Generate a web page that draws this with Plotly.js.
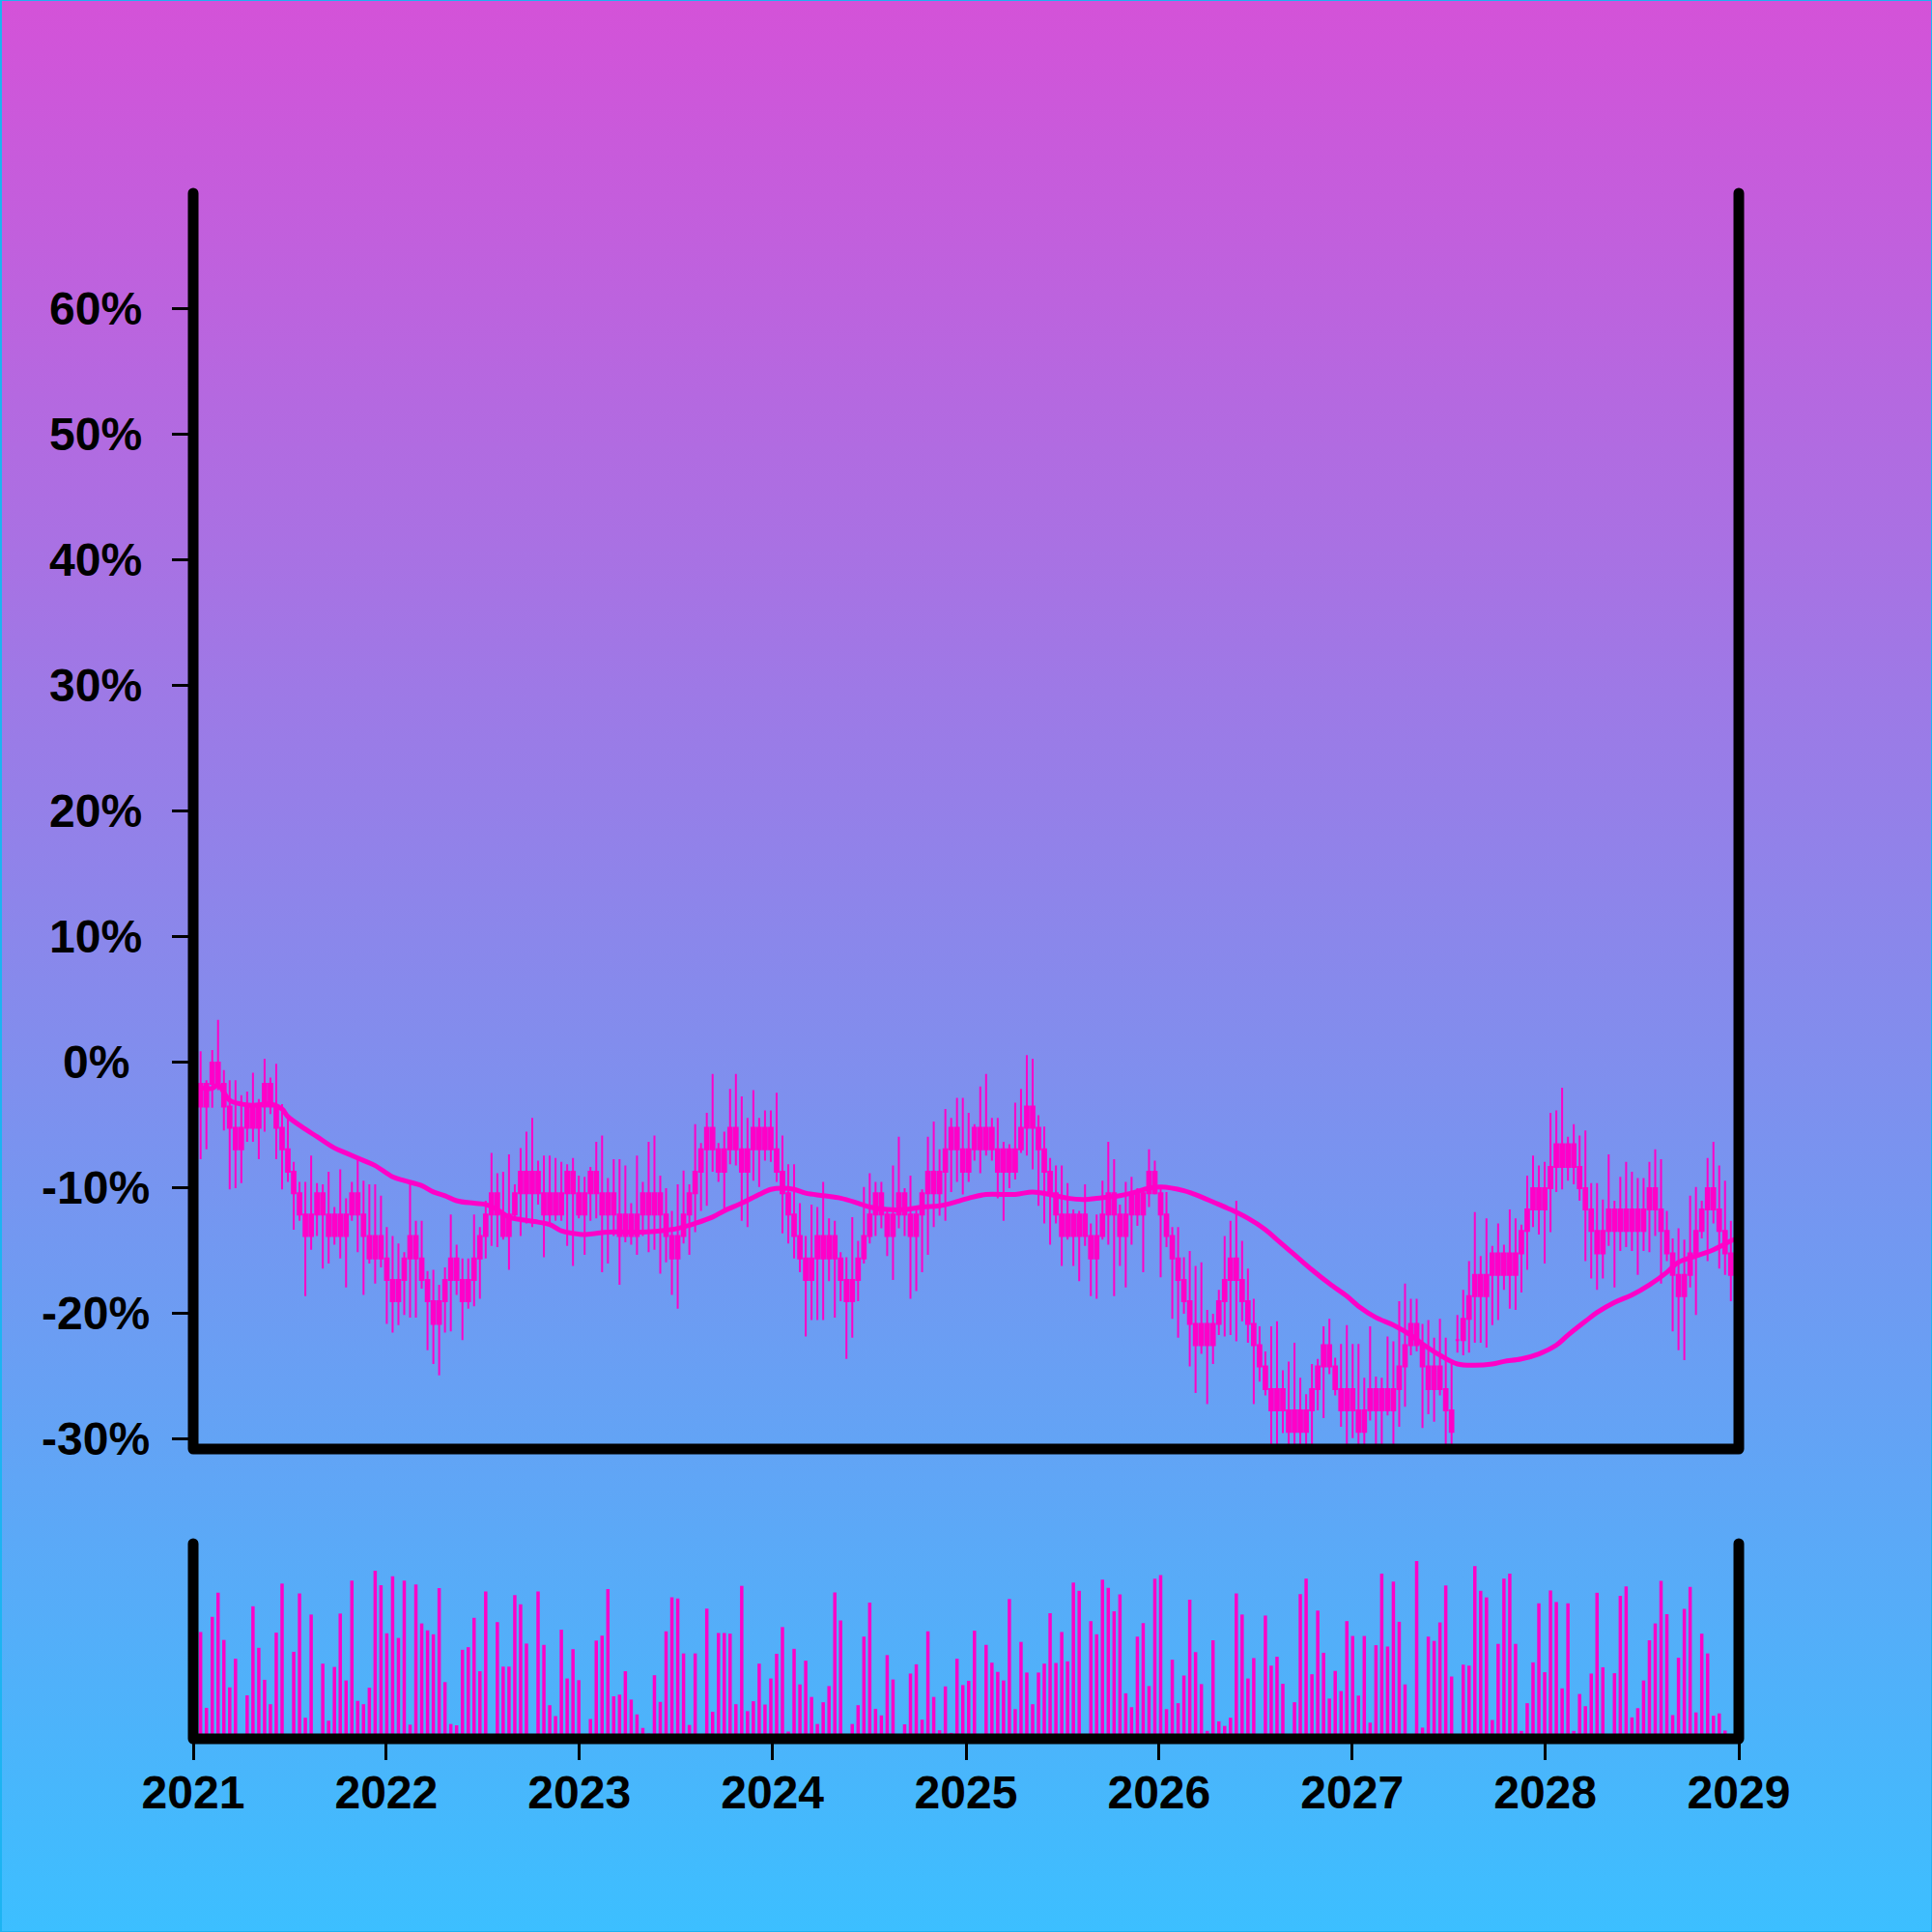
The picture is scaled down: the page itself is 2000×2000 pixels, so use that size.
<!DOCTYPE html>
<html>
<head>
<meta charset="utf-8">
<script src="https://cdn.plot.ly/plotly-3.0.1.min.js"></script>
<style>
  html, body { margin: 0; padding: 0; }
  #wrap { position: relative; width: 2000px; height: 2000px; }
  #chart { width: 2000px; height: 2000px; background: linear-gradient(to bottom, #d452d8 0%, #3cbfff 100%); }
  #frame { position: absolute; left: 0; top: 0; width: 2000px; height: 2000px; box-sizing: border-box;
           border: 1px solid #1cb4f2; border-left-width: 2px; pointer-events: none; }
</style>
</head>
<body>
<div id="wrap"><div id="chart"></div><div id="frame"></div></div>
<script>
// ---- data (percent values) ----
const open = [
 -1.7,-1.7,0,0,-1.7,-3.5,-5.2,-5.2,-3.5,-3.5,
 -3.5,-1.7,-1.7,-3.5,-5.2,-6.9,-8.7,-10.4,-12.1,-12.1,
 -10.4,-10.4,-12.1,-12.1,-12.1,-12.1,-10.4,-10.4,-12.1,-13.8,
 -13.8,-13.8,-15.6,-17.3,-17.3,-15.6,-13.8,-13.8,-15.6,-17.3,
 -19.0,-19.0,-17.3,-15.6,-15.6,-17.3,-17.3,-15.6,-13.8,-12.1,
 -10.4,-10.4,-12.1,-12.1,-10.4,-8.7,-8.7,-8.7,-8.7,-10.4,
 -10.4,-10.4,-10.4,-8.7,-8.7,-10.4,-10.4,-8.7,-8.7,-10.4,
 -10.4,-10.4,-12.1,-12.1,-12.1,-12.1,-10.4,-10.4,-10.4,-10.4,
 -12.1,-13.8,-13.8,-12.1,-10.4,-8.7,-6.9,-5.2,-5.2,-6.9,
 -6.9,-5.2,-5.2,-6.9,-6.9,-5.2,-5.2,-5.2,-5.2,-6.9,
 -8.7,-10.4,-12.1,-13.8,-15.6,-15.6,-13.8,-13.8,-13.8,-13.8,
 -15.6,-17.3,-17.3,-15.6,-13.8,-12.1,-10.4,-10.4,-12.1,-12.1,
 -10.4,-10.4,-12.1,-12.1,-10.4,-8.7,-8.7,-8.7,-6.9,-5.2,
 -5.2,-6.9,-6.9,-5.2,-5.2,-5.2,-5.2,-6.9,-6.9,-6.9,
 -6.9,-5.2,-3.5,-3.5,-5.2,-6.9,-8.7,-10.4,-12.1,-12.1,
 -12.1,-12.1,-12.1,-13.8,-13.8,-12.1,-10.4,-10.4,-12.1,-12.1,
 -10.4,-10.4,-10.4,-8.7,-8.7,-10.4,-12.1,-13.8,-15.6,-17.3,
 -19.0,-20.8,-20.8,-20.8,-20.8,-19.0,-17.3,-15.6,-15.6,-17.3,
 -19.0,-20.8,-22.5,-24.2,-26.0,-26.0,-26.0,-27.7,-27.7,-27.7,
 -27.7,-26.0,-24.2,-22.5,-22.5,-24.2,-26.0,-26.0,-26.0,-27.7,
 -27.7,-26.0,-26.0,-26.0,-26.0,-26.0,-24.2,-22.5,-20.8,-20.8,
 -22.5,-24.2,-24.2,-24.2,-26.0,-27.7,
 -22.1,-20.4,-18.6,-16.9,-16.9,-16.9,-15.2,-15.2,-15.2,-15.2,
 -15.2,-13.4,-11.7,-10.0,-10.0,-10.0,-8.3,-6.5,-6.5,-6.5,
 -6.5,-8.3,-10.0,-11.7,-13.4,-13.4,-11.7,-11.7,-11.7,-11.7,
 -11.7,-11.7,-11.7,-10.0,-10.0,-11.7,-13.4,-15.2,-16.9,-16.9,
 -15.2,-13.4,-11.7,-10.0,-10.0,-11.7,-13.4,-15.2,-16.9
];
const close = [
 -3.5,-3.5,-1.7,-1.7,-3.5,-5.2,-6.9,-6.9,-5.2,-5.2,
 -5.2,-3.5,-3.5,-5.2,-6.9,-8.7,-10.4,-12.1,-13.8,-13.8,
 -12.1,-12.1,-13.8,-13.8,-13.8,-13.8,-12.1,-12.1,-13.8,-15.6,
 -15.6,-15.6,-17.3,-19.0,-19.0,-17.3,-15.6,-15.6,-17.3,-19.0,
 -20.8,-20.8,-19.0,-17.3,-17.3,-19.0,-19.0,-17.3,-15.6,-13.8,
 -12.1,-12.1,-13.8,-13.8,-12.1,-10.4,-10.4,-10.4,-10.4,-12.1,
 -12.1,-12.1,-12.1,-10.4,-10.4,-12.1,-12.1,-10.4,-10.4,-12.1,
 -12.1,-12.1,-13.8,-13.8,-13.8,-13.8,-12.1,-12.1,-12.1,-12.1,
 -13.8,-15.6,-15.6,-13.8,-12.1,-10.4,-8.7,-6.9,-6.9,-8.7,
 -8.7,-6.9,-6.9,-8.7,-8.7,-6.9,-6.9,-6.9,-6.9,-8.7,
 -10.4,-12.1,-13.8,-15.6,-17.3,-17.3,-15.6,-15.6,-15.6,-15.6,
 -17.3,-19.0,-19.0,-17.3,-15.6,-13.8,-12.1,-12.1,-13.8,-13.8,
 -12.1,-12.1,-13.8,-13.8,-12.1,-10.4,-10.4,-10.4,-8.7,-6.9,
 -6.9,-8.7,-8.7,-6.9,-6.9,-6.9,-6.9,-8.7,-8.7,-8.7,
 -8.7,-6.9,-5.2,-5.2,-6.9,-8.7,-10.4,-12.1,-13.8,-13.8,
 -13.8,-13.8,-13.8,-15.6,-15.6,-13.8,-12.1,-12.1,-13.8,-13.8,
 -12.1,-12.1,-12.1,-10.4,-10.4,-12.1,-13.8,-15.6,-17.3,-19.0,
 -20.8,-22.5,-22.5,-22.5,-22.5,-20.8,-19.0,-17.3,-17.3,-19.0,
 -20.8,-22.5,-24.2,-26.0,-27.7,-27.7,-27.7,-29.4,-29.4,-29.4,
 -29.4,-27.7,-26.0,-24.2,-24.2,-26.0,-27.7,-27.7,-27.7,-29.4,
 -29.4,-27.7,-27.7,-27.7,-27.7,-27.7,-26.0,-24.2,-22.5,-22.5,
 -24.2,-26.0,-26.0,-26.0,-27.7,-29.4,
 -22.1,-22.1,-20.4,-18.6,-18.6,-18.6,-16.9,-16.9,-16.9,-16.9,
 -16.9,-15.2,-13.4,-11.7,-11.7,-11.7,-10.0,-8.3,-8.3,-8.3,
 -8.3,-10.0,-11.7,-13.4,-15.2,-15.2,-13.4,-13.4,-13.4,-13.4,
 -13.4,-13.4,-13.4,-11.7,-11.7,-13.4,-15.2,-16.9,-18.6,-18.6,
 -16.9,-15.2,-13.4,-11.7,-11.7,-13.4,-15.2,-16.9,-18.6
];
const high = [
 0.9,-1.4,1.0,3.4,-0.6,-1.4,-1.4,-2.6,-2.3,-0.8,
 -2.9,0.3,-1.2,-0.1,-3.3,-4.1,-7.9,-9.5,-9.5,-7.4,
 -9.6,-9.7,-8.7,-11.5,-8.5,-10.8,-9.5,-7.7,-9.4,-9.7,
 -9.7,-10.6,-13.1,-13.8,-14.4,-15.1,-9.6,-12.6,-12.6,-16.6,
 -16.5,-17.7,-16.3,-12.1,-14.5,-15.6,-15.6,-12.1,-13.1,-11.0,
 -7.2,-8.8,-8.7,-7.3,-9.7,-6.8,-5.5,-4.4,-7.8,-7.4,
 -7.4,-7.6,-7.9,-8.1,-7.6,-9.0,-9.1,-8.3,-6.3,-5.8,
 -9.2,-7.7,-7.7,-8.2,-11.2,-7.4,-9.5,-6.3,-5.8,-9.0,
 -10.0,-11.8,-9.7,-8.6,-9.7,-4.9,-6.4,-4.0,-0.9,-6.4,
 -5.5,-2.1,-0.9,-2.7,-4.4,-2.2,-4.4,-3.8,-3.8,-2.4,
 -5.8,-8.1,-8.1,-11.2,-13.8,-11.3,-11.5,-9.5,-12.4,-12.6,
 -15.1,-15.5,-12.3,-14.2,-9.9,-8.8,-9.5,-9.5,-11.8,-8.2,
 -5.9,-10.0,-9.0,-11.5,-10.1,-5.9,-4.7,-6.9,-3.7,-4.4,
 -2.8,-2.8,-4.0,-4.9,-1.9,-0.9,-4.4,-4.4,-6.3,-6.5,
 -3.2,-2.1,0.6,0.3,-4.2,-5.1,-7.6,-8.2,-8.2,-9.6,
 -11.7,-11.8,-9.7,-12.8,-12.1,-9.4,-6.3,-7.7,-11.3,-9.5,
 -9.1,-10.0,-10.0,-6.9,-7.8,-10.0,-10.3,-13.1,-13.1,-15.5,
 -15.0,-16.2,-15.9,-19.7,-20.0,-18.1,-13.8,-12.6,-11.0,-14.2,
 -16.4,-18.8,-21.0,-23.0,-21.0,-20.6,-24.5,-23.8,-22.3,-25.1,
 -26.4,-24.0,-23.6,-21.0,-20.4,-23.5,-22.4,-20.9,-22.4,-22.4,
 -25.1,-21.0,-25.0,-25.1,-21.8,-22.2,-19.0,-17.6,-18.8,-18.8,
 -20.8,-20.5,-21.9,-20.4,-21.9,-24.0,
 -20.1,-18.1,-15.8,-11.9,-15.4,-12.4,-14.6,-12.8,-14.5,-11.7,
 -12.4,-12.9,-9.0,-7.4,-8.2,-7.9,-4.0,-3.8,-2.0,-5.9,
 -4.9,-5.8,-5.4,-9.6,-9.6,-10.9,-7.3,-11.0,-9.1,-7.9,
 -8.7,-9.2,-9.2,-7.9,-6.9,-7.7,-11.8,-14.0,-13.2,-14.1,
 -10.6,-9.9,-11.0,-7.6,-6.3,-8.2,-9.4,-12.6,-14.5
];
const low = [
 -7.7,-6.9,-3.6,-2.2,-5.4,-10.1,-10.0,-9.6,-6.3,-6.3,
 -7.7,-5.5,-4.1,-7.7,-10.1,-9.5,-13.3,-12.6,-18.6,-14.9,
 -13.8,-16.4,-16.0,-14.5,-15.6,-17.9,-12.6,-15.1,-18.5,-16.0,
 -17.6,-16.3,-20.8,-21.5,-20.9,-20.1,-20.3,-20.3,-18.0,-22.9,
 -24.0,-24.9,-21.5,-21.4,-18.5,-22.1,-19.6,-19.4,-18.8,-15.6,
 -14.6,-14.7,-14.1,-16.5,-12.6,-13.8,-12.8,-13.1,-11.3,-15.5,
 -12.8,-12.6,-12.6,-14.6,-16.2,-12.4,-15.3,-12.6,-12.4,-16.7,
 -16.0,-13.8,-17.7,-14.3,-14.5,-15.3,-13.8,-15.1,-14.9,-16.8,
 -15.9,-18.5,-19.6,-14.4,-15.3,-13.5,-11.8,-11.4,-8.7,-9.5,
 -11.8,-8.1,-8.2,-12.6,-13.1,-9.4,-9.9,-7.8,-7.9,-9.5,
 -13.6,-14.4,-15.6,-16.7,-21.8,-20.5,-20.5,-20.5,-17.4,-20.3,
 -19.0,-23.6,-21.9,-19.0,-16.0,-14.4,-13.8,-13.2,-15.4,-17.3,
 -13.2,-13.8,-18.8,-18.2,-16.7,-15.3,-13.1,-12.2,-12.6,-10.3,
 -9.5,-10.5,-9.5,-7.8,-8.8,-7.4,-7.8,-10.8,-12.6,-10.0,
 -9.3,-7.2,-7.4,-8.5,-11.4,-12.8,-14.5,-12.8,-16.2,-14.1,
 -16.2,-17.4,-14.6,-18.6,-18.8,-14.1,-14.5,-18.6,-16.2,-17.9,
 -14.5,-13.0,-16.7,-11.5,-10.5,-17.1,-14.7,-20.4,-21.9,-20.0,
 -24.2,-26.3,-23.2,-27.2,-24.0,-21.7,-21.8,-21.7,-22.2,-20.6,
 -22.3,-27.2,-25.4,-26.5,-31.5,-31.5,-29.5,-31.5,-31.5,-31.5,
 -31.5,-31.5,-27.7,-28.3,-24.8,-26.5,-29.0,-31.5,-29.9,-31.5,
 -31.5,-28.5,-31.5,-31.5,-28.1,-31.5,-29.0,-27.4,-23.3,-23.0,
 -29.1,-28.0,-28.6,-26.5,-31.5,-31.5,
 -23.1,-23.3,-23.1,-22.3,-22.3,-22.7,-20.9,-20.5,-18.1,-19.6,
 -19.7,-18.3,-16.5,-13.1,-13.7,-16.0,-13.5,-10.3,-10.1,-9.4,
 -9.7,-11.0,-15.8,-17.2,-18.1,-17.2,-14.6,-17.9,-15.0,-14.7,
 -15.0,-16.9,-15.0,-15.1,-13.8,-17.6,-15.8,-21.4,-22.9,-23.7,
 -17.9,-20.1,-14.0,-15.8,-12.8,-16.4,-16.9,-19.0,-19.4
];
const volume = [
 324,94,370,443,300,156,243,0,132,402,
 276,179,105,322,471,0,264,441,64,377,
 6,228,55,218,380,177,480,115,105,155,
 510,466,320,493,306,480,43,468,350,329,
 317,457,172,45,41,270,278,367,205,447,
 0,354,219,219,436,408,289,0,447,285,
 102,69,331,183,272,178,2,60,298,313,
 454,129,134,205,119,74,33,16,193,112,
 326,429,426,259,42,259,2,395,82,321,
 321,319,105,464,84,114,228,104,183,258,
 339,22,273,165,237,127,45,111,160,444,
 359,0,45,102,310,413,91,71,254,180,
 0,44,198,226,58,326,127,26,159,18,
 243,163,176,328,0,285,231,203,177,424,
 90,294,201,105,201,228,381,230,324,235,
 474,449,0,357,317,483,458,387,438,138,
 96,310,351,160,486,497,90,240,108,192,
 422,263,166,24,299,53,39,64,441,377,
 183,245,0,374,222,249,167,0,111,439,
 486,196,389,261,122,206,145,357,312,131,
 312,49,284,501,280,477,355,165,6,539,
 34,310,297,353,465,189,4,225,222,524,
 449,429,57,288,486,501,288,24,108,232,
 411,202,450,415,153,411,24,136,99,198,
 443,217,0,199,434,462,65,93,177,299,
 350,479,378,72,246,394,461,80,319,259,
 70,77,25,0,414
];
// moving-average line, sampled at candle indices
const maIdx = [0,2,3,5,7,9,12,14,15,18,20,23,25,28,30,33,35,38,40,42,44,47,49,51,53,55,58,60,62,64,66,68,70,76,79,82,85,88,90,93,96,98,100,102,104,107,110,113,115,118,121,124,127,129,132,135,140,143,146,149,152,154,158,160,163,165,169,172,174,177,180,183,185,188,191,194,197,199,202,205,208,210,213,216,219,222,224,227,230,233,235,238,240,243,246,249,252,254,257,260,263,264];
const maVal = [-2.0,-2.05,-1.8,-3.0,-3.3,-3.4,-3.3,-3.7,-4.3,-5.3,-5.9,-6.8,-7.2,-7.8,-8.2,-9.1,-9.4,-9.8,-10.3,-10.6,-11.0,-11.2,-11.3,-11.7,-12.3,-12.5,-12.7,-12.9,-13.4,-13.6,-13.7,-13.6,-13.5,-13.5,-13.4,-13.2,-12.8,-12.3,-11.8,-11.2,-10.5,-10.1,-10.0,-10.1,-10.4,-10.6,-10.8,-11.2,-11.5,-11.7,-11.7,-11.5,-11.4,-11.2,-10.8,-10.5,-10.5,-10.3,-10.5,-10.8,-10.9,-10.8,-10.6,-10.4,-10.0,-9.9,-10.2,-10.7,-11.1,-11.7,-12.4,-13.3,-14.1,-15.3,-16.5,-17.6,-18.6,-19.4,-20.3,-20.9,-21.7,-22.4,-23.3,-24.0,-24.1,-24.0,-23.8,-23.6,-23.2,-22.5,-21.7,-20.6,-19.9,-19.1,-18.5,-17.7,-16.7,-15.9,-15.4,-14.9,-14.2,-14.0];
const yTicks = [-30,-20,-10,0,10,20,30,40,50,60];
const startDate = '2021-01-15';
const stepDays = 11;

// candle dates: one candle every stepDays days
const dates = [];
const t0 = Date.parse(startDate + 'T00:00:00Z');
for (let i = 0; i < open.length; i++) {
  dates.push(new Date(t0 + i * stepDays * 86400000).toISOString().slice(0, 10));
}
const maDates = maIdx.map(i => dates[i]);

const MAG = '#ff00c8';
const FONT = {family: '"Liberation Sans", Arial, Helvetica, sans-serif', size: 48, color: '#000', weight: 'bold'};
const MAIN_BOTTOM = 0.1875, VOL_TOP = 0.12625;

const traces = [
  {
    type: 'candlestick', x: dates, open: open, high: high, low: low, close: close,
    xaxis: 'x2', yaxis: 'y',
    increasing: {line: {color: MAG, width: 2}, fillcolor: MAG},
    decreasing: {line: {color: MAG, width: 2}, fillcolor: MAG},
    whiskerwidth: 0, hoverinfo: 'skip', showlegend: false
  },
  {
    type: 'scatter', mode: 'lines', x: maDates, y: maVal, xaxis: 'x2', yaxis: 'y',
    line: {color: MAG, width: 5, shape: 'spline', smoothing: 1.0}, hoverinfo: 'skip', showlegend: false
  },
  {
    type: 'bar', x: dates, y: volume, xaxis: 'x', yaxis: 'y2',
    marker: {color: MAG, line: {width: 0}}, hoverinfo: 'skip', showlegend: false
  }
];

const annotations = yTicks.map(v => ({
  xref: 'paper', yref: 'y', x: -0.063, y: v, text: v + '%', showarrow: false,
  xanchor: 'center', yanchor: 'middle', font: FONT
}));

const frameLine = {color: '#000', width: 11};
const shapes = [
  {type: 'path', xref: 'paper', yref: 'paper', layer: 'above', line: frameLine, fillcolor: 'rgba(0,0,0,0)',
   path: 'M0,1 L0,' + MAIN_BOTTOM + ' L1,' + MAIN_BOTTOM + ' L1,1'},
  {type: 'path', xref: 'paper', yref: 'paper', layer: 'above', line: frameLine, fillcolor: 'rgba(0,0,0,0)',
   path: 'M0,' + VOL_TOP + ' L0,0 L1,0 L1,' + VOL_TOP}
];

const layout = {
  width: 2000, height: 2000,
  margin: {l: 200, r: 200, t: 200, b: 200},
  paper_bgcolor: 'rgba(0,0,0,0)', plot_bgcolor: 'rgba(0,0,0,0)',
  showlegend: false, boxgap: 0.12, bargap: 0.42,
  font: FONT,
  xaxis: {
    type: 'date', domain: [0, 1], anchor: 'y2', range: ['2021-01-01', '2029-01-01'],
    showline: false,
    ticks: 'outside', ticklen: 21, tickwidth: 3, tickcolor: '#000',
    tick0: '2021-01-01', dtick: 'M12', tickformat: '%Y', tickfont: FONT, ticklabelstandoff: -8,
    showgrid: false, zeroline: false, rangeslider: {visible: false}, fixedrange: true
  },
  xaxis2: {
    type: 'date', domain: [0, 1], anchor: 'y', matches: 'x', range: ['2021-01-01', '2029-01-01'],
    showline: false, ticks: '', showticklabels: false, showgrid: false, zeroline: false,
    rangeslider: {visible: false}, fixedrange: true
  },
  yaxis: {
    domain: [MAIN_BOTTOM, 1], anchor: 'x2', range: [-30.77, 69.23],
    showline: false,
    ticks: 'outside', ticklen: 21, tickwidth: 3, tickcolor: '#000',
    tickmode: 'array', tickvals: yTicks, showticklabels: false,
    showgrid: false, zeroline: false, fixedrange: true
  },
  yaxis2: {
    domain: [0, VOL_TOP], anchor: 'x', range: [0, 592],
    showline: false, ticks: '', showticklabels: false, showgrid: false, zeroline: false, fixedrange: true
  },
  shapes: shapes,
  annotations: annotations
};

Plotly.newPlot('chart', traces, layout, {staticPlot: true, displayModeBar: false}).then(() => {
  document.querySelectorAll('#chart .shapelayer path').forEach(p => {
    p.style.strokeLinecap = 'round';
    p.style.strokeLinejoin = 'round';
  });
});
</script>
</body>
</html>
